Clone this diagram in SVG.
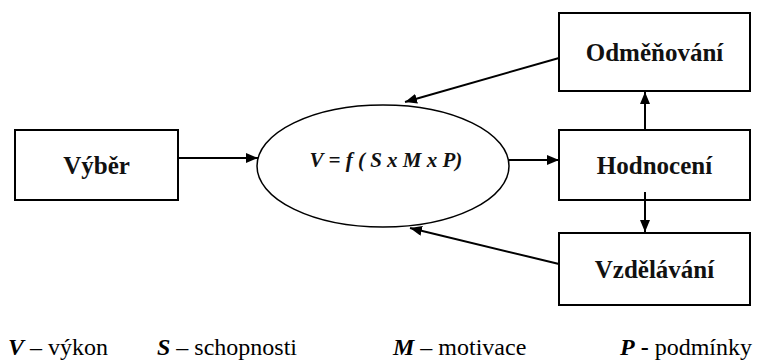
<svg xmlns="http://www.w3.org/2000/svg" width="760" height="360" viewBox="0 0 760 360" font-family="'Liberation Serif', 'Times New Roman', serif">
  <defs>
    <marker id="arrow" markerWidth="12" markerHeight="10" refX="12" refY="5" orient="auto" markerUnits="userSpaceOnUse">
      <path d="M0,0 L12,5 L0,10 Z" fill="#000"/>
    </marker>
    <style>
      .box { fill: #fff; stroke: #000; stroke-width: 2; }
      .lbl { font-weight: bold; font-size: 25px; text-anchor: middle; fill: #111; }
      .conn line { stroke: #000; stroke-width: 2; marker-end: url(#arrow); }
      .leg { font-size: 24px; fill: #000; }
      .v { font-weight: bold; font-style: italic; }
    </style>
  </defs>
  <rect width="760" height="360" fill="#fff"/>

  <g id="vyber">
    <rect class="box" x="15" y="130" width="163" height="70"/>
    <text class="lbl" x="96.5" y="174">Výběr</text>
  </g>

  <g id="vykon">
    <ellipse cx="383" cy="166" rx="126" ry="61" fill="#fff" stroke="#000" stroke-width="1.5"/>
    <text class="v" x="386" y="167" font-size="21" text-anchor="middle" fill="#111">V = f ( S x M x P)</text>
  </g>

  <g id="odmenovani">
    <rect class="box" x="559" y="13" width="191" height="78"/>
    <text class="lbl" x="654.5" y="61">Odměňování</text>
  </g>

  <g id="hodnoceni">
    <rect class="box" x="559" y="130" width="191" height="70"/>
    <text class="lbl" x="654.5" y="174">Hodnocení</text>
  </g>

  <g id="vzdelavani">
    <rect class="box" x="559" y="233" width="191" height="72"/>
    <text class="lbl" x="654.5" y="278">Vzdělávání</text>
  </g>

  <g class="conn" id="connectors">
    <line x1="178" y1="158" x2="258" y2="158"/>
    <line x1="509" y1="160" x2="559" y2="160"/>
    <line x1="559" y1="58" x2="405" y2="102"/>
    <line x1="559" y1="264" x2="410" y2="228"/>
    <line x1="645" y1="130" x2="645" y2="92"/>
    <line x1="645" y1="192" x2="645" y2="232"/>
  </g>

  <g id="legend">
    <text class="leg" x="8" y="355"><tspan class="v">V</tspan> – výkon</text>
    <text class="leg" x="157" y="355"><tspan class="v">S</tspan> – schopnosti</text>
    <text class="leg" x="393" y="355"><tspan class="v">M</tspan> – motivace</text>
    <text class="leg" x="620" y="355"><tspan class="v">P</tspan><tspan font-weight="bold"> -</tspan> podmínky</text>
  </g>
</svg>
